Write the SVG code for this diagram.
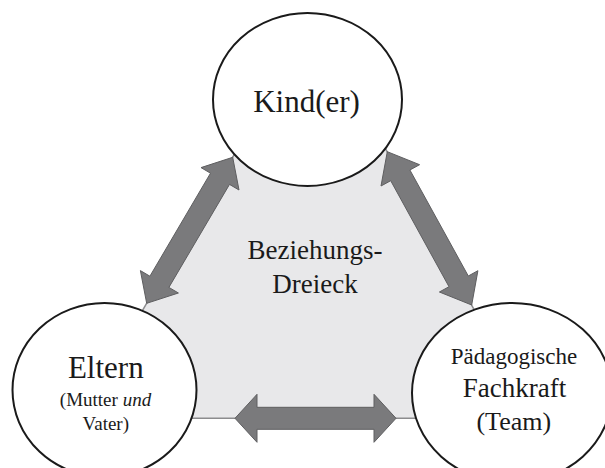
<svg xmlns="http://www.w3.org/2000/svg" width="605" height="468" viewBox="0 0 605 468">
  <style>
    .bg { fill: #ffffff; }
    .tri { fill: #e8e8ea; stroke: #8c8c8e; stroke-width: 1.5; stroke-linejoin: miter; }
    .arrow { fill: #7a7a7c; stroke: #5e5e60; stroke-width: 1; stroke-linejoin: miter; }
    .node { fill: #ffffff; stroke: #1a1a1a; stroke-width: 2; }
    .t { font-family: "Liberation Serif", "Times New Roman", serif; fill: #1a1a1a; text-anchor: middle; }
  </style>
  <rect class="bg" x="0" y="0" width="605" height="468"/>

  <g id="dreieck">
    <polygon class="tri" points="314,19 79,418.3 534,418.3"/>
    <text class="t" x="315" y="259.3" font-size="27">Beziehungs-</text>
    <text class="t" x="315" y="293.3" font-size="27">Dreieck</text>
  </g>

  <g id="connectors">
    <polygon id="arrow-kind-eltern" class="arrow" points="232.7,157.3 239,190 229.5,184.4 168.9,287.4 178.4,293 146.7,303.3 140.4,270.6 149.9,276.2 210.5,173.2 201,167.6"/>
    <polygon id="arrow-kind-fachkraft" class="arrow" points="387.3,151.7 419.6,164.7 409.9,170 468.3,276 477.9,270.7 471.7,305 439.4,292 449,286.7 390.7,180.7 381,186"/>
    <polygon id="arrow-eltern-fachkraft" class="arrow" points="235,418.3 257,394.3 257,407.3 374,407.3 374,394.3 396,418.3 374,442.3 374,429.3 257,429.3 257,442.3"/>
  </g>

  <g id="node-kinder">
    <ellipse class="node" cx="307.5" cy="99.5" rx="94.5" ry="86.5"/>
    <text class="t" x="306.5" y="111.7" font-size="31">Kind(er)</text>
  </g>

  <g id="node-eltern">
    <ellipse class="node" cx="104.5" cy="390" rx="92" ry="87"/>
    <text class="t" x="105.8" y="377.7" font-size="31">Eltern</text>
    <text class="t" x="105.5" y="406" font-size="19">(Mutter <tspan font-style="italic">und</tspan></text>
    <text class="t" x="105.8" y="430" font-size="19">Vater)</text>
  </g>

  <g id="node-fachkraft">
    <ellipse class="node" cx="512" cy="393" rx="100" ry="90"/>
    <text class="t" x="514" y="364" font-size="23">Pädagogische</text>
    <text class="t" x="514.5" y="397.3" font-size="27">Fachkraft</text>
    <text class="t" x="513.8" y="430" font-size="26">(Team)</text>
  </g>
</svg>
